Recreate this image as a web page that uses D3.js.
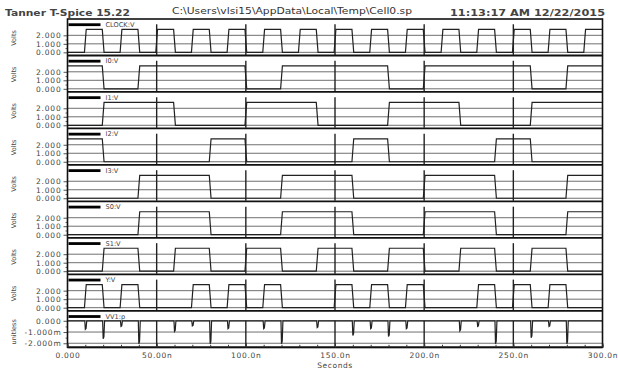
<!DOCTYPE html>
<html>
<head>
<meta charset="utf-8">
<script src="https://cdn.jsdelivr.net/npm/d3@7"></script>
<style>
    body { margin: 0; background: #fff; }
    svg text { font-family: "DejaVu Sans", Verdana, sans-serif; fill: #333; }
</style>
</head>
<body>
<script>
// header texts
const titleLeft = "Tanner T-Spice 15.22";
const titlePath = "C:\\Users\\vlsi15\\AppData\\Local\\Temp\\Cell0.sp";
const titleTime = "11:13:17 AM 12/22/2015";

// voltage traces: start level (0 = low, 1 = high) and toggle times in ns
const signalNames = ["CLOCK:V", "I0:V", "I1:V", "I2:V", "I3:V", "S0:V", "S1:V", "Y:V"];
const signalStart = [0, 1, 0, 1, 0, 0, 0, 0];
const clockEdges = [10, 20, 30, 40, 50, 60, 70, 80, 90, 100, 110, 120, 130, 140, 150, 160, 170, 180, 190, 200, 210, 220, 230, 240, 250, 260, 270, 280, 290];
const i0Edges = [20, 40, 100, 120, 180, 200, 260, 280];
const i1Edges = [20, 60, 100, 140, 180, 220, 260];
const i2Edges = [20, 80, 100, 160, 180, 240, 260];
const i3Edges = [40, 80, 120, 160, 200, 240, 280];
const s0Edges = [40, 80, 120, 160, 200, 240, 280];
const s1Edges = [20, 40, 60, 80, 100, 120, 140, 160, 180, 200, 220, 240, 260, 280];
const yEdges = [10, 20, 30, 40, 70, 80, 90, 100, 110, 120, 150, 160, 170, 180, 190, 200, 230, 240, 250, 260, 270, 280];
const signalEdges = [clockEdges, i0Edges, i1Edges, i2Edges, i3Edges, s0Edges, s1Edges, yEdges];
const highLevel = 2.7;     // volts
const riseTime = 1;        // ns

// page-boundary glitches drawn through every trace
const spikeTimes = [50, 100, 150, 200, 250];
const spikeVolts = [-0.3, 3.3];
const spikeAmps = [0, -2.3];

// supply current trace (mA), negative spikes at clock edges
const currentName = "VV1:p";
const currentSpikeTimes = [10, 20, 30, 40, 60, 70, 80, 90, 110, 120, 140, 160, 170, 180, 190, 220, 230, 240, 260, 270, 280];
const currentSpikeDepth = [-0.75, -1.6, -0.5, -2.05, -0.95, -0.45, -2.05, -0.7, -0.7, -2.05, -0.6, -1.3, -0.7, -1.4, -0.7, -0.9, -0.5, -2.05, -1.5, -0.5, -2.05];

// axis ticks
const voltTicks = [0, 1, 2];
const voltTickLabels = ["0.000", "1.000", "2.000"];
const ampTicks = [0, -1, -2];
const ampTickLabels = ["0.000", "-1.000m", "-2.000m"];
const timeTicks = [0, 50, 100, 150, 200, 250, 300];
const timeTickLabels = ["0.000", "50.00n", "100.0n", "150.0n", "200.0n", "250.0n", "300.0n"];

const width = 618;
const height = 370;
const plotLeft = 67.5, plotRight = 602.5, plotTop = 19, plotBottom = 347.3;
const nPanels = signalNames.length + 1;

const svg = d3.select("body").append("svg")
    .attr("width", width)
    .attr("height", height)
    .attr("viewBox", [0, 0, width, height]);

const x = d3.scaleLinear().domain([0, 300]).range([plotLeft, plotRight]);
const panelY = d3.scaleLinear().domain([0, nPanels]).range([plotTop, plotBottom]);

// header
svg.append("text").attr("x", 5).attr("y", 16)
    .attr("font-size", 9.5).attr("font-weight", "bold").style("fill", "#444")
    .attr("textLength", 125).attr("lengthAdjust", "spacingAndGlyphs")
    .text(titleLeft);
svg.append("text").attr("x", 172).attr("y", 14)
    .attr("font-size", 8.5).style("fill", "#333")
    .attr("textLength", 240).attr("lengthAdjust", "spacingAndGlyphs")
    .text(titlePath);
svg.append("text").attr("x", 450).attr("y", 16)
    .attr("font-size", 9.5).attr("font-weight", "bold").style("fill", "#444")
    .attr("textLength", 155).attr("lengthAdjust", "spacingAndGlyphs")
    .text(titleTime);

function wavePoints(start, edges) {
    const pts = [[0, start * highLevel]];
    let level = start;
    edges.forEach(t => {
        pts.push([t - riseTime / 2, level * highLevel]);
        level = 1 - level;
        pts.push([t + riseTime / 2, level * highLevel]);
    });
    pts.push([300, level * highLevel]);
    return pts;
}

function currentPoints() {
    const pts = [[0, 0]];
    currentSpikeTimes.forEach((t, i) => {
        pts.push([t - 0.3, 0], [t, currentSpikeDepth[i]], [t + 0.4, currentSpikeDepth[i] * 0.9], [t + 0.8, 0]);
    });
    pts.push([300, 0]);
    return pts;
}

function drawPanel(i, opts) {
    const top = panelY(i), bottom = panelY(i + 1);
    const y = d3.scaleLinear().domain(opts.domain).range([bottom, top]);
    const g = svg.append("g");

    // gridlines
    g.append("g").selectAll("line")
        .data(opts.ticks)
        .join("line")
        .attr("x1", plotLeft).attr("x2", plotRight)
        .attr("y1", d => y(d)).attr("y2", d => y(d))
        .attr("stroke", "#707070").attr("stroke-width", 1);

    // left axis
    const axis = g.append("g")
        .attr("transform", `translate(${plotLeft},0)`)
        .call(d3.axisLeft(y).tickValues(opts.ticks)
            .tickFormat((d, k) => opts.labels[k]).tickSize(4).tickPadding(2));
    axis.select(".domain").remove();
    axis.selectAll("line").attr("stroke", "#555");
    axis.selectAll("text").attr("font-size", 7.5).attr("letter-spacing", 0.8)
        .style("font-family", "DejaVu Sans, sans-serif").style("fill", "#444");
    g.append("g")
        .attr("transform", `translate(${plotLeft},0)`)
        .call(d3.axisLeft(y).tickValues(opts.minor).tickFormat("").tickSize(2))
        .call(a => a.select(".domain").remove())
        .selectAll("line").attr("stroke", "#666");

    // unit label
    g.append("text")
        .attr("transform", `translate(16,${top + opts.labelOffset}) rotate(-90)`)
        .attr("text-anchor", "middle").attr("font-size", 6.5).style("fill", "#444")
        .text(opts.unit);

    // glitches
    g.append("g").selectAll("line")
        .data(spikeTimes)
        .join("line")
        .attr("x1", d => x(d)).attr("x2", d => x(d))
        .attr("y1", y(opts.spike[0])).attr("y2", y(opts.spike[1]))
        .attr("stroke", "#222").attr("stroke-width", 1.4);

    // trace
    g.append("path")
        .datum(opts.points)
        .attr("fill", "none")
        .attr("stroke", "#222")
        .attr("stroke-width", 1.2)
        .attr("d", d3.line().x(d => x(d[0])).y(d => y(d[1])));

    // legend
    g.append("rect")
        .attr("x", plotLeft + 1).attr("y", top + 4.3)
        .attr("width", 32).attr("height", 2.8).attr("fill", "#000");
    g.append("text")
        .attr("x", plotLeft + 38).attr("y", top + 8)
        .attr("font-size", 6.6).style("fill", "#444")
        .text(opts.name);

    // divider
    g.append("line")
        .attr("x1", plotLeft).attr("x2", plotRight)
        .attr("y1", bottom).attr("y2", bottom)
        .attr("stroke", "#111").attr("stroke-width", 1.8);
}

signalNames.forEach((name, i) => {
    drawPanel(i, {
        name: name,
        domain: [-0.37, 3.92],
        ticks: voltTicks,
        labels: voltTickLabels,
        minor: [0.5, 1.5],
        unit: "Volts",
        labelOffset: 19,
        spike: spikeVolts,
        points: wavePoints(signalStart[i], signalEdges[i])
    });
});

drawPanel(nPanels - 1, {
    name: currentName,
    domain: [-2.36, 0.89],
    ticks: ampTicks,
    labels: ampTickLabels,
    minor: [-0.5, -1.5],
    unit: "unitless",
    labelOffset: 21,
    spike: spikeAmps,
    points: currentPoints()
});

// outer frame
svg.append("rect")
    .attr("x", plotLeft).attr("y", plotTop)
    .attr("width", plotRight - plotLeft).attr("height", plotBottom - plotTop)
    .attr("fill", "none").attr("stroke", "#111").attr("stroke-width", 1.6);

// time axis
const xAxis = svg.append("g")
    .attr("transform", `translate(0,${plotBottom})`)
    .call(d3.axisBottom(x).tickValues(timeTicks)
        .tickFormat((d, k) => timeTickLabels[k]).tickSize(-4).tickPadding(5));
xAxis.select(".domain").remove();
xAxis.selectAll("line").attr("stroke", "#333");
xAxis.selectAll("text").attr("font-size", 7.5).attr("letter-spacing", 0.7)
    .style("font-family", "DejaVu Sans, sans-serif").style("fill", "#444");
svg.append("g")
    .attr("transform", `translate(0,${plotBottom})`)
    .call(d3.axisBottom(x).ticks(30).tickFormat("").tickSize(-2.5))
    .call(a => a.select(".domain").remove())
    .selectAll("line").attr("stroke", "#333");

svg.append("text")
    .attr("x", x(150)).attr("y", 368)
    .attr("text-anchor", "middle").attr("font-size", 7.5).attr("letter-spacing", 0.6)
    .style("fill", "#444")
    .text("Seconds");
</script>
</body>
</html>
